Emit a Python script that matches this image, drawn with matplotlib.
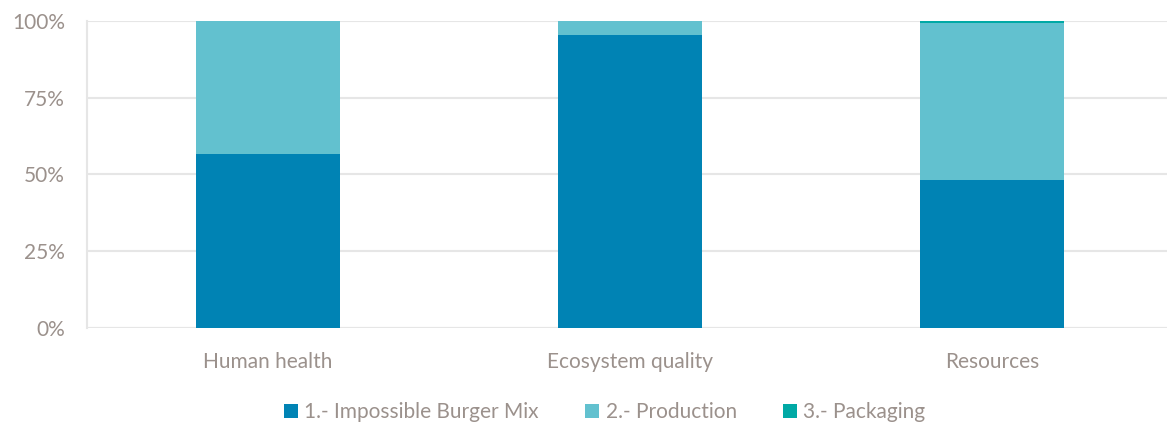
import matplotlib
matplotlib.use("Agg")
import matplotlib.pyplot as plt
from matplotlib.ticker import FuncFormatter
import numpy as np

categories = ["Human health", "Ecosystem quality", "Resources"]
series_names = ["1.- Impossible Burger Mix", "2.- Production", "3.- Packaging"]
mix = [56.8, 95.4, 48.3]
production = [43.2, 4.6, 51.0]
packaging = [0.0, 0.0, 0.7]
colors = ["#0083B4", "#62C1CF", "#00A9A5"]
text_color = "#9B918C"

plt.rcParams['font.family'] = ['Lato', 'DejaVu Sans']

fig = plt.figure(figsize=(11.67, 4.25), dpi=100)
ax = fig.add_axes([0.0746, 0.228, 0.9306, 0.723])

x = np.arange(len(categories))
width = 0.4
bottom = np.zeros(len(categories))
for vals, name, c in zip([mix, production, packaging], series_names, colors):
    ax.bar(x, vals, width, bottom=bottom, color=c, label=name, zorder=3)
    bottom += np.array(vals)

ax.set_xlim(-0.5, 2.5)
ax.set_ylim(0, 100)
ax.set_yticks([0, 25, 50, 75, 100])
ax.yaxis.set_major_formatter(FuncFormatter(lambda v, p: f"{int(v)}%"))
ax.set_xticks(x)
ax.set_xticklabels(categories)
ax.grid(axis='y', color="#E6E6E6", linewidth=1.5, zorder=0)
for s in ["top", "right", "bottom"]:
    ax.spines[s].set_visible(False)
ax.spines["left"].set_color("#E6E6E6")
ax.spines["left"].set_linewidth(1.5)
ax.axhline(0, color="#E6E6E6", linewidth=1.5, zorder=1)
ax.tick_params(axis='both', length=0, colors=text_color, labelsize=15)
ax.tick_params(axis='x', pad=17.5)
ax.tick_params(axis='y', pad=16)

handles, labels = ax.get_legend_handles_labels()
leg = fig.legend(handles, labels, loc="center", bbox_to_anchor=(0.518, 0.03), ncol=3,
                 frameon=False, fontsize=15, handlelength=0.7, handleheight=0.7,
                 handletextpad=0.3, columnspacing=2.2)
for t in leg.get_texts():
    t.set_color(text_color)

fig.savefig("out.png", dpi=100)
